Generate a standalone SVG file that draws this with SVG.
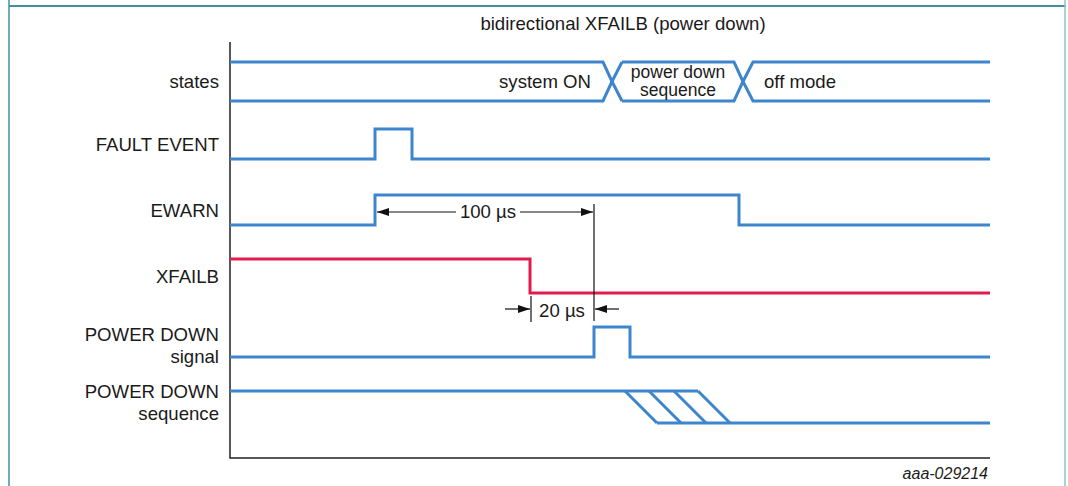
<svg xmlns="http://www.w3.org/2000/svg" width="1068" height="486" viewBox="0 0 1068 486">
<style>
.sig{fill:none;stroke:#3D85CC;stroke-width:3;stroke-linejoin:miter}
.red{fill:none;stroke:#E31B4E;stroke-width:3}
.ax{fill:none;stroke:#222;stroke-width:1.5}
.dim{fill:none;stroke:#111;stroke-width:1.2}
.lbl{font-family:"Liberation Sans",Arial,sans-serif;font-size:18.6px;fill:#1a1a1a}
.sm{font-size:17.5px}
.r{text-anchor:end}
.c{text-anchor:middle}
</style>
<defs>
<marker id="ah" viewBox="0 0 12 8" refX="12" refY="4" markerWidth="12" markerHeight="8" markerUnits="userSpaceOnUse" orient="auto">
<path d="M0,0 L12,4 L0,8 Z" fill="#111"/>
</marker>
</defs>
<rect width="1068" height="486" fill="#fff"/>
<g id="frame">
<line x1="9" y1="6" x2="1066" y2="6" stroke="#3E90A2" stroke-width="2"/>
<line x1="9" y1="0" x2="9" y2="486" stroke="#3E90A2" stroke-width="1.5"/>
<line x1="1065" y1="0" x2="1065" y2="486" stroke="#8EC3D0" stroke-width="1.5"/>
</g>
<g id="title"><text class="lbl c" x="623" y="30">bidirectional XFAILB (power down)</text></g>
<g id="axes">
<polyline class="ax" points="230,42 230,458 990,458"/>
</g>
<g id="labels">
<text class="lbl r" x="219" y="88">states</text>
<text class="lbl r" x="219" y="151">FAULT EVENT</text>
<text class="lbl r" x="219" y="217">EWARN</text>
<text class="lbl r" x="219" y="283">XFAILB</text>
<text class="lbl r" x="219" y="341">POWER DOWN</text>
<text class="lbl r" x="219" y="363">signal</text>
<text class="lbl r" x="219" y="398">POWER DOWN</text>
<text class="lbl r" x="219" y="420">sequence</text>
</g>
<g id="states">
<polyline class="sig" points="230,62 603,62 612,81.5 603,101 230,101"/>
<polyline class="sig" points="622,62 612,81.5 622,101"/>
<polyline class="sig" points="622,62 734,62 743,81.5 734,101 622,101"/>
<polyline class="sig" points="990,62 753,62 743,81.5 753,101 990,101"/>
<text class="lbl r" x="591" y="88">system ON</text>
<text class="lbl sm c" x="678" y="78">power down</text>
<text class="lbl sm c" x="678" y="96">sequence</text>
<text class="lbl" x="764" y="88">off mode</text>
</g>
<g id="fault-event">
<polyline class="sig" points="230,159 375,159 375,129 412,129 412,159 990,159"/>
</g>
<g id="ewarn">
<polyline class="sig" points="230,225 375,225 375,195 739,195 739,225 990,225"/>
</g>
<g id="xfailb">
<polyline class="red" points="230,259 530,259 530,293 990,293"/>
</g>
<g id="power-down-signal">
<polyline class="sig" points="230,357 594,357 594,327 630,327 630,357 990,357"/>
</g>
<g id="power-down-sequence">
<polyline class="sig" points="230,391 698,391"/>
<polyline class="sig" points="657,423 990,423"/>
<line class="sig" x1="625" y1="391" x2="657" y2="423"/>
<line class="sig" x1="649" y1="391" x2="681" y2="423"/>
<line class="sig" x1="674" y1="391" x2="706" y2="423"/>
<line class="sig" x1="698" y1="391" x2="730" y2="423"/>
</g>
<g id="connectors">
<line class="dim" x1="594" y1="204" x2="594" y2="321"/>
<line class="dim" x1="531" y1="296" x2="531" y2="322"/>
<line class="dim" x1="456" y1="212" x2="377" y2="212" marker-end="url(#ah)"/>
<line class="dim" x1="520" y1="212" x2="593" y2="212" marker-end="url(#ah)"/>
<line class="dim" x1="505" y1="309" x2="530" y2="309" marker-end="url(#ah)"/>
<line class="dim" x1="619" y1="309" x2="595" y2="309" marker-end="url(#ah)"/>
<text class="lbl c" x="488" y="218">100 µs</text>
<text class="lbl c" x="562" y="317">20 µs</text>
</g>
<g id="figure-id"><text x="988" y="479" text-anchor="end" font-family="Liberation Sans,Arial,sans-serif" font-size="16" font-style="italic" fill="#1a1a1a">aaa-029214</text></g>
</svg>
